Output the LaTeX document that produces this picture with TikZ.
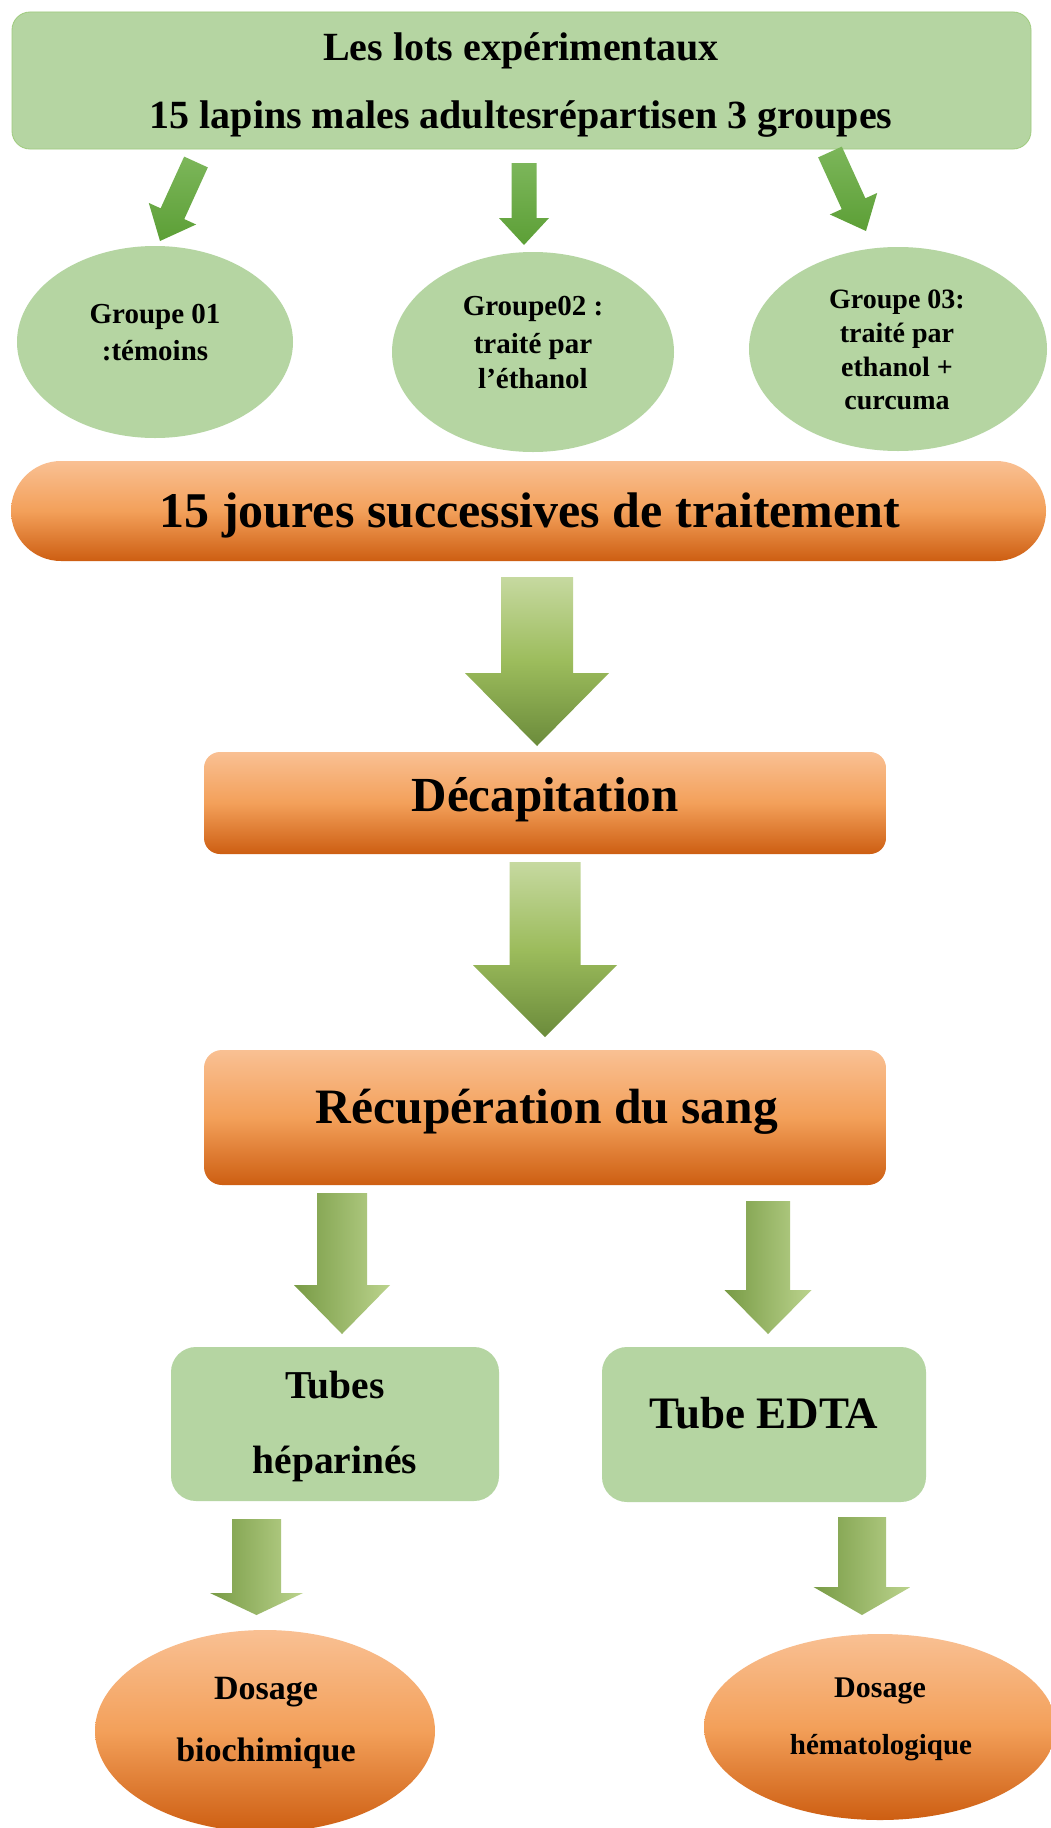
\documentclass[tikz,border=0pt]{standalone}
\usepackage{fontspec}
\setmainfont{Liberation Serif}
\usetikzlibrary{calc,shapes.geometric}
\definecolor{gfill}{HTML}{B5D5A2}
\definecolor{gline}{HTML}{9FCB7E}
\definecolor{otop}{HTML}{F9C093}
\definecolor{omid}{HTML}{F3A05A}
\definecolor{obot}{HTML}{CD5E12}
\definecolor{atop}{HTML}{C6D9A0}
\definecolor{amid}{HTML}{9CBC5C}
\definecolor{abot}{HTML}{6B8B3B}
\definecolor{adark}{HTML}{789B45}
\definecolor{alight}{HTML}{BBD38D}
\definecolor{stop}{HTML}{7CB65A}
\definecolor{sbot}{HTML}{5C9F36}
\tikzset{
  gbox/.style={rectangle, draw=gline, line width=0.8pt, fill=gfill, rounded corners=#1, inner sep=0pt},
  obox/.style={rectangle, draw=none, top color=otop, bottom color=obot, middle color=omid, rounded corners=#1, inner sep=0pt},
  gell/.style={ellipse, draw=none, fill=gfill, inner sep=0pt},
  oell/.style={ellipse, draw=none, top color=otop, bottom color=obot, middle color=omid, inner sep=0pt},
  txt/.style={anchor=base, inner sep=0pt, font=\bfseries\fontsize{#1}{#1}\selectfont},
  smallarr/.style={top color=stop, bottom color=sbot, draw=none},
  bigarr/.style={top color=atop, bottom color=abot, middle color=amid, draw=none},
  sidearr/.style={left color=adark, right color=alight, draw=none},
}
\newcommand\barrow[6]{%
  \coordinate (bah) at ($(#2)!#5!(#1)$);
  \path[#6] ($(#1)!#3!90:(#2)$) -- ($(bah)!#3!90:(#2)$) -- ($(bah)!#4!90:(#2)$) -- (#2)
    -- ($(bah)!#4!-90:(#2)$) -- ($(bah)!#3!-90:(#2)$) -- ($(#1)!#3!-90:(#2)$) -- cycle;
}
\begin{document}
\begin{tikzpicture}[x=1pt,y=-1pt]
\useasboundingbox[fill=white] (0,0) rectangle (1051,1828);

% shapes
\node[gbox=18pt, minimum width=1019pt, minimum height=137pt] (top) at (521.5,80.5) {};
\node[gell, minimum width=276pt, minimum height=192pt] (g1) at (155,342) {};
\node[gell, minimum width=282pt, minimum height=200pt] (g2) at (533,352) {};
\node[gell, minimum width=298pt, minimum height=204pt] (g3) at (898,349) {};
\node[obox=50pt, minimum width=1035pt, minimum height=100pt] (bar) at (528.5,511) {};
\node[obox=16pt, minimum width=682pt, minimum height=102pt] (dec) at (545,803) {};
\node[obox=18pt, minimum width=682pt, minimum height=135pt] (rec) at (545,1117.5) {};
\node[gbox=25pt, draw=none, minimum width=328pt, minimum height=154pt] (hep) at (335,1424) {};
\node[gbox=25pt, draw=none, minimum width=324pt, minimum height=155pt] (edta) at (764,1424.5) {};
\node[oell, minimum width=340pt, minimum height=202pt] (bio) at (265,1731) {};
\node[oell, minimum width=352pt, minimum height=186pt] (hem) at (880,1727) {};

% texts
\node[txt=40] (t1) at (521,61) {Les lots expérimentaux};
\node[txt=40] (t2) at (521,128) {15 lapins males adultesrépartisen 3 groupes};
\node[txt=29] (g1a) at (155,323) {Groupe 01};
\node[txt=29] (g1b) at (155,360) {:témoins};
\node[txt=29] (g2a) at (533,315) {Groupe02 :};
\node[txt=29] (g2b) at (533,353) {traité par};
\node[txt=29] (g2c) at (533,388) {l’éthanol};
\node[txt=28] (g3a) at (897,308) {Groupe 03:};
\node[txt=28] (g3b) at (897,342) {traité par};
\node[txt=28] (g3c) at (897,376) {ethanol +};
\node[txt=28] (g3d) at (897,409) {curcuma};
\node[txt=50] (tb) at (530,527) {15 joures successives de traitement};
\node[txt=49] (td) at (545,811) {Décapitation};
\node[txt=49.5] (tr) at (547,1123) {Récupération du sang};
\node[txt=39.5] (th1) at (335,1398) {Tubes};
\node[txt=39.5] (th2) at (335,1473) {héparinés};
\node[txt=45] (te) at (764,1428) {Tube EDTA};
\node[txt=34] (tb1) at (266,1699) {Dosage};
\node[txt=34] (tb2) at (266,1761) {biochimique};
\node[txt=30] (tm1) at (880,1697) {Dosage};
\node[txt=29] (tm2) at (881,1754) {hématologique};

% arrow end points
\coordinate (a1s) at (196,162);
\coordinate (a1e) at (160,241);
\coordinate (a2s) at (524,163);
\coordinate (a2e) at (524,245);
\coordinate (a3s) at (830,152);
\coordinate (a3e) at (866,231);
\coordinate (bAs) at (537,577);
\coordinate (bAe) at (537,746);
\coordinate (bBs) at (545,862);
\coordinate (bBe) at (545,1037);
\coordinate (cLs) at (342,1193);
\coordinate (cLe) at (342,1334);
\coordinate (cRs) at (768,1201);
\coordinate (cRe) at (768,1334);
\coordinate (dLs) at (256.5,1519);
\coordinate (dLe) at (256.5,1615);
\coordinate (dRs) at (862,1517);
\coordinate (dRe) at (862,1615);

\barrow{a1s}{a1e}{13pt}{26pt}{30pt}{smallarr}
\barrow{a2s}{a2e}{12.5pt}{25pt}{27pt}{smallarr}
\barrow{a3s}{a3e}{13pt}{26pt}{30pt}{smallarr}
\barrow{bAs}{bAe}{36pt}{72pt}{73pt}{bigarr}
\barrow{bBs}{bBe}{35.5pt}{72pt}{72pt}{bigarr}
\barrow{cLs}{cLe}{25pt}{48pt}{49pt}{sidearr}
\barrow{cRs}{cRe}{22pt}{43.5pt}{44pt}{sidearr}
\barrow{dLs}{dLe}{24.5pt}{46.5pt}{22pt}{sidearr}
\barrow{dRs}{dRe}{24pt}{48.5pt}{28pt}{sidearr}
\end{tikzpicture}
\end{document}
